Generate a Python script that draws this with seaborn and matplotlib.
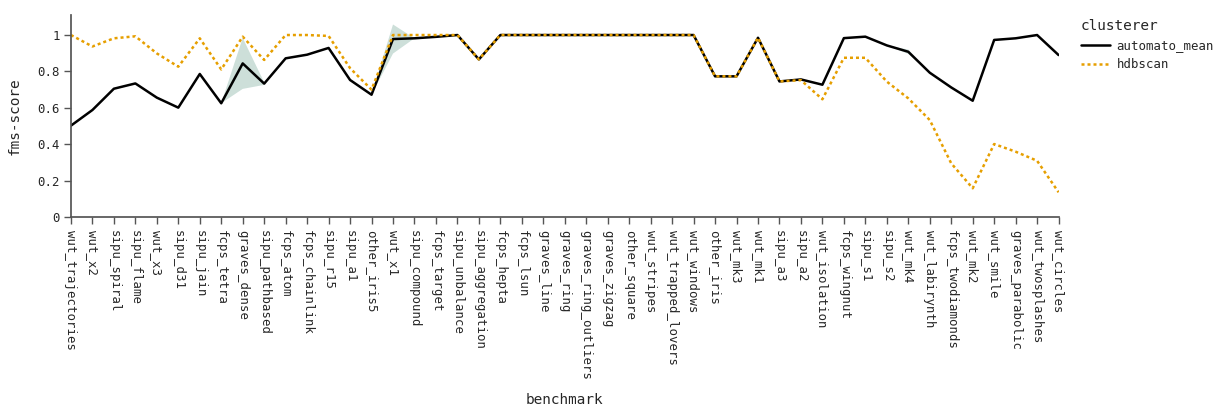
import numpy as np
import pandas as pd
import matplotlib
matplotlib.use("Agg")
import matplotlib.pyplot as plt
import seaborn as sns
from matplotlib.ticker import FuncFormatter

benchmarks = [
    "wut_trajectories", "wut_x2", "sipu_spiral", "sipu_flame", "wut_x3", "sipu_d31",
    "sipu_jain", "fcps_tetra", "graves_dense", "sipu_pathbased", "fcps_atom",
    "fcps_chainlink", "sipu_r15", "sipu_a1", "other_iris5", "wut_x1", "sipu_compound",
    "fcps_target", "sipu_unbalance", "sipu_aggregation", "fcps_hepta", "fcps_lsun",
    "graves_line", "graves_ring", "graves_ring_outliers", "graves_zigzag", "other_square",
    "wut_stripes", "wut_trapped_lovers", "wut_windows", "other_iris", "wut_mk3", "wut_mk1",
    "sipu_a3", "sipu_a2", "wut_isolation", "fcps_wingnut", "sipu_s1", "sipu_s2", "wut_mk4",
    "wut_labirynth", "fcps_twodiamonds", "wut_mk2", "wut_smile", "graves_parabolic",
    "wut_twosplashes", "wut_circles",
]

automato_mean = [
    0.502, 0.588, 0.705, 0.734, 0.656, 0.601, 0.786, 0.625, 0.844, 0.733,
    0.872, 0.892, 0.929, 0.753, 0.672, 0.978, 0.982, 0.990, 1.0, 0.866,
    1.0, 1.0, 1.0, 1.0, 1.0, 1.0, 1.0, 1.0, 1.0, 1.0,
    0.773, 0.773, 0.985, 0.745, 0.756, 0.727, 0.983, 0.991, 0.943, 0.908,
    0.793, 0.712, 0.639, 0.973, 0.982, 1.0, 0.890,
]

# individual runs for benchmarks where automato results vary
automato_runs = {
    "graves_dense": [0.704, 0.844, 0.984],
    "sipu_pathbased": [0.726, 0.733, 0.740],
    "wut_x1": [0.898, 0.978, 1.058],
    "wut_mk4": [0.896, 0.908, 0.920],
}

hdbscan = [
    1.0, 0.937, 0.982, 0.993, 0.899, 0.826, 0.982, 0.811, 0.991, 0.863,
    1.0, 1.0, 0.995, 0.818, 0.700, 1.0, 1.0, 1.0, 1.0, 0.866,
    1.0, 1.0, 1.0, 1.0, 1.0, 1.0, 1.0, 1.0, 1.0, 1.0,
    0.773, 0.773, 0.985, 0.745, 0.752, 0.647, 0.875, 0.875, 0.744, 0.652,
    0.533, 0.295, 0.158, 0.401, 0.359, 0.309, 0.136,
]

rows = []
for b, m in zip(benchmarks, automato_mean):
    # benchmarks with identical runs are listed twice so that the band has zero width there
    for v in automato_runs.get(b, [m, m]):
        rows.append({"benchmark": b, "fms-score": v, "clusterer": "automato_mean"})
for b, v in zip(benchmarks, hdbscan):
    rows.append({"benchmark": b, "fms-score": v, "clusterer": "hdbscan"})
df = pd.DataFrame(rows)

sns.set_theme(style="ticks")
plt.rcParams["font.family"] = ["DejaVu Sans Mono", "DejaVu Sans"]
text_color = "#262626"
spine_color = "#555555"
plt.rcParams.update({
    "axes.edgecolor": spine_color,
    "xtick.color": spine_color,
    "ytick.color": spine_color,
    "xtick.labelcolor": text_color,
    "ytick.labelcolor": text_color,
    "axes.labelcolor": text_color,
    "text.color": text_color,
})

fig = plt.figure(figsize=(12.19, 4.09), dpi=100)
ax = fig.add_axes([0.0582, 0.4694, 0.8102, 0.4939])

sns.lineplot(
    data=df, x="benchmark", y="fms-score", hue="clusterer", style="clusterer",
    palette={"automato_mean": "#000000", "hdbscan": "#E69F00"},
    dashes={"automato_mean": "", "hdbscan": (1.2, 1.2)},
    errorbar=("pi", 100), linewidth=1.8, sort=False, ax=ax,
)

for coll in ax.collections:
    coll.set_facecolor((0.02, 0.39, 0.27, 0.2))
    coll.set_edgecolor("none")

ax.set_xlim(0, len(benchmarks) - 1)
ax.set_ylim(0, 1.11)
ax.set_yticks([0, 0.2, 0.4, 0.6, 0.8, 1.0])
ax.yaxis.set_major_formatter(FuncFormatter(lambda v, p: f"{v:g}"))
ax.tick_params(axis="x", labelsize=8.95, length=5, width=1, pad=4)
ax.tick_params(axis="y", labelsize=8.95, length=5, width=1, pad=3)
for lbl in ax.get_xticklabels():
    lbl.set_rotation(270)
    lbl.set_ha("center")
    lbl.set_va("top")
ax.set_xlabel("benchmark", fontsize=10.35)
ax.set_ylabel("fms-score", fontsize=10.35)
for s in ["top", "right"]:
    ax.spines[s].set_visible(False)

ax.get_legend().remove()
handles, labels = ax.get_legend_handles_labels()
leg = fig.legend(
    handles, labels, title="clusterer", loc="upper left",
    bbox_to_anchor=(1081 / 1219, 1 - 19 / 409), bbox_transform=fig.transFigure,
    frameon=False, fontsize=8.95, title_fontsize=10.35, borderpad=0,
    borderaxespad=0, handlelength=2.3, handletextpad=0.55, alignment="left",
)

ax.xaxis.get_label().set_va("center")
ax.xaxis.set_label_coords(564.5 / 1219, 1 - 400 / 409, transform=fig.transFigure)
ax.yaxis.set_label_coords(15 / 1219, 1 - 116 / 409, transform=fig.transFigure)
ax.yaxis.get_label().set_va("center")

fig.savefig("out.png", dpi=100)
